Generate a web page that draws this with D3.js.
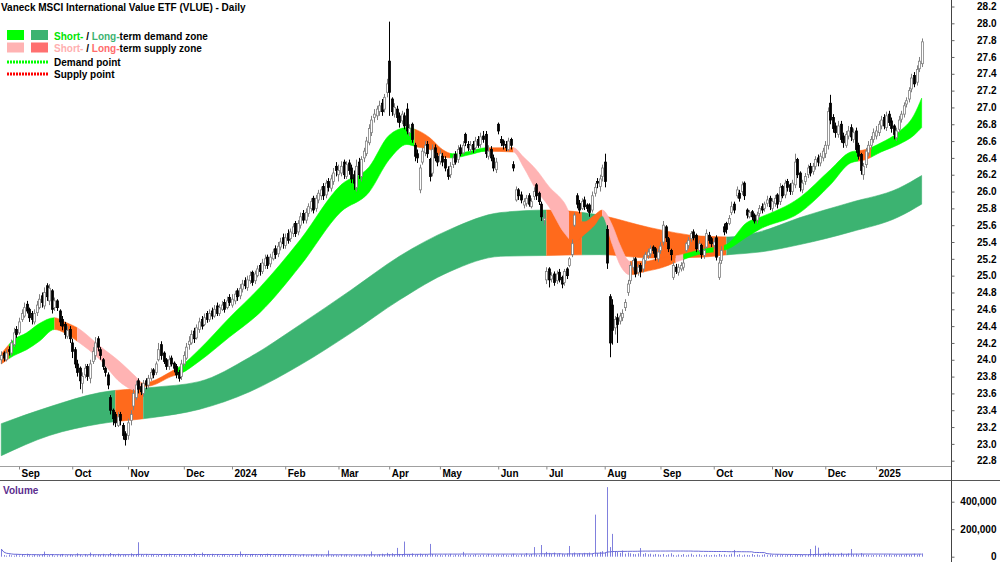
<!DOCTYPE html>
<html>
<head>
<meta charset="utf-8">
<script src="https://cdn.jsdelivr.net/npm/d3@7"></script>
<style>
body { margin: 0; background: #fff; }
text { font-family: "Liberation Sans", Arial, sans-serif; }
</style>
</head>
<body>
<div id="chart"></div>
<script>
// VLUE daily candles, Aug 2023 - Jan 2025 (ASX trading days)

// opens, one row per month
var opens = [
  24.00, 24.08, 24.00, 24.12, 24.08, 24.18, 24.36,
  24.32, 24.48, 24.52, 24.66, 24.60, 24.55, 24.45, 24.56, 24.62, 24.76, 24.64, 24.88, 24.70, 24.82, 24.62, 24.70, 24.58, 24.48, 24.42, 24.28, 24.36,
  24.20, 24.12, 23.95, 23.90, 23.72, 23.82, 23.92, 23.78, 23.98, 24.05, 24.25, 24.12, 24.00, 23.90, 23.82, 23.55, 23.40, 23.35, 23.22, 23.35, 23.22, 23.12,
  23.10, 23.28, 23.45, 23.55, 23.75, 23.68, 23.60, 23.75, 23.70, 23.78, 23.88, 23.85, 24.00, 24.18, 24.08, 24.00, 23.92, 24.02, 23.96, 23.92, 23.85, 23.80,
  23.95, 24.02, 24.18, 24.20, 24.34, 24.26, 24.36, 24.48, 24.42, 24.55, 24.48, 24.58, 24.52, 24.64, 24.55, 24.60, 24.68, 24.62, 24.74,
  24.65, 24.70, 24.82, 24.76, 24.84, 24.94, 24.86, 24.94, 25.04, 24.94, 25.00, 25.12, 25.05, 25.12, 25.22, 25.14, 25.20, 25.32, 25.26, 25.34, 25.45,
  25.36, 25.50, 25.44, 25.50, 25.62, 25.52, 25.60, 25.74, 25.66, 25.74, 25.80, 25.92, 25.80, 25.90, 25.95, 26.06, 25.96, 26.12, 26.04, 26.12, 26.30,
  26.20, 26.22, 26.35, 26.18, 26.34, 26.28, 26.20, 26.05, 26.35, 26.18, 26.40, 26.45, 26.58, 26.70, 26.88, 26.90, 26.95, 27.05, 26.98, 27.18,
  27.55, 27.10, 26.92, 26.98, 26.90, 26.84, 26.90, 26.98, 26.70, 26.80, 26.55, 26.45, 26.02, 26.35, 26.46, 26.56, 26.38, 26.22, 26.52, 26.42,
  26.36, 26.42, 26.38, 26.26, 26.20, 26.32, 26.44, 26.38, 26.52, 26.46, 26.68, 26.56, 26.50, 26.56, 26.52, 26.62, 26.56, 26.66, 26.68, 26.42, 26.50, 26.40, 26.26,
  26.80, 26.62, 26.60, 26.56, 26.50, 26.62, 26.32, 25.90, 26.02, 25.96, 25.84, 25.86, 25.95, 25.82, 25.94, 26.08, 25.98, 25.85, 25.66,
  24.95, 25.08, 24.96, 25.02, 24.94, 25.04, 24.98, 24.92, 25.08, 25.12, 25.25, 25.60, 25.95, 25.86, 25.80, 25.90, 25.84, 25.84, 25.78, 25.98, 26.12, 26.06, 26.18,
  26.35, 25.55, 24.75, 24.65, 24.38, 24.50, 24.46, 24.50, 24.62, 24.80, 24.94, 25.10, 25.20, 25.04, 25.12, 25.08, 25.18, 25.24, 25.26, 25.34, 25.32, 25.20,
  25.30, 25.40, 25.58, 25.44, 25.30, 24.98, 25.10, 25.04, 25.08, 25.10, 25.30, 25.36, 25.44, 25.52, 25.48, 25.30, 25.36, 25.24, 25.34, 25.48, 25.44,
  25.36, 25.45, 24.98, 25.18, 25.58, 25.62, 25.62, 25.75, 25.85, 25.95, 25.98, 26.00, 26.10, 25.78, 25.70, 25.76, 25.72, 25.66, 25.74, 25.82, 25.80, 25.86, 25.92,
  25.80, 25.86, 25.96, 25.88, 26.06, 25.96, 26.12, 26.08, 26.00, 26.08, 26.38, 26.22, 26.02, 26.12, 26.20, 26.30, 26.24, 26.30, 26.40, 26.34, 26.40,
  26.45, 26.55, 27.05, 26.88, 26.78, 26.68, 26.80, 26.66, 26.55, 26.66, 26.76, 26.62, 26.72, 26.55, 26.44, 26.20, 26.32, 26.46, 26.55, 26.62,
  26.66, 26.70, 26.78, 26.88, 26.76, 26.92, 26.84, 26.78, 26.64, 26.74, 26.86, 26.92, 27.04, 27.10, 27.22, 27.38, 27.30, 27.46, 27.52
];
var highs = [
  24.10, 24.10, 24.12, 24.16, 24.24, 24.38, 24.40,
  24.50, 24.60, 24.68, 24.70, 24.62, 24.58, 24.60, 24.70, 24.78, 24.80, 24.86, 24.91, 24.90, 24.84, 24.74, 24.72, 24.60, 24.52, 24.45, 24.40, 24.40,
  24.25, 24.15, 24.00, 23.92, 23.85, 23.95, 23.95, 24.00, 24.15, 24.27, 24.28, 24.15, 24.02, 23.92, 23.85, 23.58, 23.42, 23.38, 23.38, 23.38, 23.25, 23.15,
  23.30, 23.40, 23.65, 23.75, 23.78, 23.72, 23.76, 23.78, 23.82, 23.90, 23.90, 23.98, 24.20, 24.22, 24.10, 24.02, 24.05, 24.05, 23.98, 23.95, 23.88, 24.00,
  24.10, 24.20, 24.28, 24.35, 24.38, 24.42, 24.50, 24.52, 24.55, 24.58, 24.60, 24.62, 24.65, 24.68, 24.66, 24.70, 24.72, 24.75, 24.78,
  24.78, 24.82, 24.85, 24.90, 24.95, 24.98, 25.00, 25.05, 25.06, 25.06, 25.12, 25.15, 25.20, 25.25, 25.25, 25.26, 25.32, 25.36, 25.40, 25.45, 25.50,
  25.50, 25.55, 25.56, 25.62, 25.65, 25.66, 25.75, 25.78, 25.80, 25.86, 25.92, 25.95, 25.96, 26.02, 26.06, 26.10, 26.14, 26.16, 26.20, 26.28, 26.35,
  26.32, 26.36, 26.38, 26.36, 26.38, 26.32, 26.25, 26.38, 26.40, 26.42, 26.52, 26.65, 26.80, 26.90, 26.98, 27.02, 27.08, 27.10, 27.16, 27.34,
  28.02, 27.12, 27.05, 27.02, 26.94, 26.96, 26.94, 27.05, 26.80, 26.82, 26.58, 26.50, 26.32, 26.52, 26.60, 26.60, 26.40, 26.56, 26.56, 26.46,
  26.50, 26.46, 26.42, 26.30, 26.35, 26.44, 26.48, 26.55, 26.56, 26.60, 26.70, 26.60, 26.60, 26.60, 26.65, 26.66, 26.70, 26.72, 26.72, 26.55, 26.54, 26.44, 26.40,
  26.82, 26.66, 26.62, 26.60, 26.64, 26.64, 26.36, 26.06, 26.04, 26.00, 25.92, 25.96, 25.98, 25.92, 26.05, 26.10, 26.00, 25.88, 25.74,
  25.10, 25.10, 25.04, 25.05, 25.06, 25.08, 25.00, 25.08, 25.10, 25.22, 25.43, 25.75, 25.98, 25.90, 25.92, 25.94, 25.86, 25.86, 26.00, 26.10, 26.16, 26.20, 26.32,
  26.45, 25.60, 24.78, 24.72, 24.52, 24.55, 24.56, 24.60, 24.72, 24.95, 25.16, 25.22, 25.22, 25.14, 25.15, 25.24, 25.28, 25.32, 25.36, 25.36, 25.34, 25.32,
  25.40, 25.65, 25.60, 25.46, 25.32, 25.16, 25.14, 25.14, 25.16, 25.20, 25.40, 25.46, 25.53, 25.55, 25.50, 25.42, 25.38, 25.34, 25.55, 25.52, 25.46,
  25.45, 25.48, 25.22, 25.35, 25.62, 25.64, 25.72, 25.88, 25.88, 26.06, 26.02, 26.12, 26.12, 25.80, 25.78, 25.78, 25.74, 25.76, 25.84, 25.86, 25.88, 25.95, 25.95,
  25.92, 25.96, 25.98, 26.10, 26.08, 26.14, 26.15, 26.10, 26.14, 26.45, 26.40, 26.24, 26.14, 26.22, 26.32, 26.34, 26.34, 26.42, 26.44, 26.46, 26.52,
  26.60, 27.00, 27.15, 26.92, 26.82, 26.84, 26.84, 26.70, 26.72, 26.78, 26.80, 26.75, 26.76, 26.58, 26.46, 26.34, 26.52, 26.60, 26.66, 26.75,
  26.78, 26.84, 26.90, 26.92, 26.95, 26.96, 26.88, 26.80, 26.76, 26.90, 26.96, 27.06, 27.12, 27.24, 27.40, 27.42, 27.50, 27.60, 27.82
];
var lows = [
  23.95, 23.98, 23.98, 24.05, 24.05, 24.15, 24.26,
  24.30, 24.45, 24.50, 24.55, 24.45, 24.42, 24.42, 24.52, 24.60, 24.62, 24.60, 24.70, 24.65, 24.55, 24.58, 24.58, 24.40, 24.35, 24.25, 24.25, 24.20,
  24.02, 23.90, 23.80, 23.65, 23.60, 23.78, 23.75, 23.72, 23.95, 24.00, 24.10, 24.00, 23.88, 23.80, 23.65, 23.35, 23.22, 23.20, 23.20, 23.22, 23.05, 22.98,
  23.05, 23.22, 23.40, 23.52, 23.60, 23.58, 23.56, 23.65, 23.66, 23.75, 23.78, 23.82, 23.98, 24.00, 23.95, 23.88, 23.88, 23.92, 23.85, 23.78, 23.74, 23.76,
  23.92, 24.00, 24.12, 24.18, 24.20, 24.24, 24.32, 24.36, 24.40, 24.44, 24.45, 24.48, 24.50, 24.52, 24.52, 24.58, 24.56, 24.60, 24.64,
  24.62, 24.66, 24.70, 24.72, 24.80, 24.84, 24.82, 24.90, 24.88, 24.90, 24.98, 25.00, 25.02, 25.08, 25.08, 25.10, 25.18, 25.20, 25.22, 25.30, 25.32,
  25.32, 25.38, 25.40, 25.46, 25.46, 25.48, 25.56, 25.62, 25.62, 25.70, 25.76, 25.74, 25.76, 25.86, 25.90, 25.90, 25.92, 26.00, 26.00, 26.08, 26.18,
  26.12, 26.18, 26.15, 26.15, 26.20, 26.10, 26.02, 26.00, 26.15, 26.12, 26.35, 26.42, 26.55, 26.66, 26.82, 26.85, 26.90, 26.90, 26.94, 27.12,
  26.90, 26.90, 26.88, 26.82, 26.76, 26.80, 26.74, 26.68, 26.66, 26.58, 26.36, 26.34, 25.98, 26.32, 26.42, 26.40, 26.12, 26.18, 26.36, 26.30,
  26.32, 26.30, 26.24, 26.14, 26.16, 26.28, 26.32, 26.34, 26.42, 26.44, 26.54, 26.48, 26.46, 26.46, 26.48, 26.52, 26.52, 26.58, 26.40, 26.38, 26.36, 26.24, 26.22,
  26.68, 26.54, 26.50, 26.48, 26.48, 26.50, 26.24, 25.88, 25.90, 25.86, 25.80, 25.82, 25.82, 25.80, 25.90, 25.90, 25.84, 25.65, 25.60,
  24.90, 24.86, 24.92, 24.88, 24.90, 24.92, 24.85, 24.88, 24.96, 25.10, 25.22, 25.58, 25.80, 25.74, 25.78, 25.78, 25.76, 25.70, 25.75, 25.94, 26.04, 26.00, 26.12,
  26.05, 25.08, 24.03, 24.18, 24.30, 24.20, 24.42, 24.46, 24.58, 24.76, 24.90, 25.06, 24.98, 25.00, 24.98, 25.04, 25.14, 25.20, 25.22, 25.26, 25.18, 25.16,
  25.26, 25.36, 25.40, 25.28, 25.18, 24.95, 25.02, 25.00, 25.05, 25.06, 25.28, 25.32, 25.40, 25.42, 25.28, 25.28, 25.20, 25.20, 25.32, 25.38, 25.34,
  25.32, 25.18, 24.95, 25.14, 25.48, 25.50, 25.60, 25.72, 25.74, 25.92, 25.88, 25.96, 25.90, 25.68, 25.68, 25.66, 25.62, 25.62, 25.70, 25.74, 25.76, 25.82, 25.78,
  25.76, 25.82, 25.80, 25.84, 25.92, 25.92, 26.00, 25.96, 25.96, 26.04, 26.16, 26.00, 25.98, 26.08, 26.16, 26.18, 26.20, 26.26, 26.30, 26.30, 26.36,
  26.40, 26.50, 26.80, 26.70, 26.64, 26.64, 26.58, 26.52, 26.52, 26.62, 26.60, 26.58, 26.46, 26.38, 26.20, 26.14, 26.28, 26.42, 26.50, 26.58,
  26.62, 26.66, 26.74, 26.74, 26.72, 26.78, 26.70, 26.62, 26.60, 26.70, 26.82, 26.88, 27.00, 27.06, 27.18, 27.24, 27.26, 27.42, 27.48
];
var closes = [
  24.05, 24.02, 24.08, 24.10, 24.20, 24.32, 24.30,
  24.45, 24.55, 24.62, 24.58, 24.50, 24.48, 24.55, 24.65, 24.72, 24.68, 24.80, 24.75, 24.85, 24.60, 24.70, 24.62, 24.45, 24.40, 24.30, 24.35, 24.25,
  24.10, 23.95, 23.85, 23.75, 23.80, 23.90, 23.80, 23.95, 24.10, 24.20, 24.15, 24.05, 23.92, 23.85, 23.70, 23.40, 23.30, 23.25, 23.32, 23.28, 23.10, 23.05,
  23.25, 23.35, 23.60, 23.70, 23.65, 23.62, 23.72, 23.70, 23.78, 23.85, 23.82, 23.95, 24.12, 24.05, 23.98, 23.92, 24.00, 23.95, 23.90, 23.82, 23.78, 23.95,
  24.05, 24.15, 24.22, 24.30, 24.25, 24.38, 24.45, 24.40, 24.50, 24.48, 24.55, 24.52, 24.60, 24.55, 24.62, 24.65, 24.60, 24.70, 24.68,
  24.72, 24.78, 24.75, 24.85, 24.90, 24.88, 24.95, 25.00, 24.92, 25.02, 25.08, 25.05, 25.15, 25.20, 25.12, 25.22, 25.28, 25.25, 25.35, 25.40, 25.38,
  25.45, 25.42, 25.52, 25.58, 25.50, 25.62, 25.70, 25.66, 25.75, 25.82, 25.88, 25.78, 25.92, 25.98, 26.02, 25.95, 26.10, 26.05, 26.15, 26.22, 26.25,
  26.25, 26.30, 26.20, 26.32, 26.25, 26.15, 26.10, 26.30, 26.20, 26.38, 26.48, 26.60, 26.75, 26.85, 26.92, 26.98, 27.02, 26.95, 27.12, 27.28,
  27.18, 26.95, 27.00, 26.88, 26.82, 26.92, 26.78, 26.72, 26.75, 26.62, 26.42, 26.40, 26.28, 26.48, 26.55, 26.45, 26.18, 26.50, 26.40, 26.35,
  26.45, 26.35, 26.28, 26.18, 26.30, 26.40, 26.35, 26.50, 26.45, 26.55, 26.58, 26.52, 26.55, 26.50, 26.60, 26.55, 26.65, 26.62, 26.45, 26.48, 26.40, 26.28, 26.35,
  26.72, 26.58, 26.55, 26.52, 26.60, 26.55, 26.28, 26.02, 25.95, 25.90, 25.88, 25.92, 25.85, 25.88, 26.00, 25.95, 25.88, 25.70, 25.68,
  25.05, 24.95, 25.00, 24.92, 25.02, 24.95, 24.90, 25.05, 25.00, 25.20, 25.38, 25.72, 25.85, 25.78, 25.88, 25.82, 25.80, 25.75, 25.95, 26.05, 26.10, 26.15, 26.28,
  26.12, 25.15, 24.20, 24.35, 24.48, 24.42, 24.52, 24.55, 24.68, 24.90, 25.12, 25.18, 25.02, 25.10, 25.05, 25.20, 25.25, 25.28, 25.32, 25.30, 25.22, 25.28,
  25.35, 25.60, 25.45, 25.32, 25.25, 25.12, 25.05, 25.10, 25.12, 25.15, 25.38, 25.42, 25.50, 25.45, 25.32, 25.38, 25.25, 25.30, 25.50, 25.42, 25.38,
  25.40, 25.22, 25.15, 25.30, 25.52, 25.55, 25.68, 25.82, 25.78, 26.02, 25.92, 26.08, 25.95, 25.72, 25.75, 25.70, 25.65, 25.72, 25.80, 25.78, 25.85, 25.90, 25.82,
  25.88, 25.92, 25.85, 26.05, 25.95, 26.10, 26.05, 26.00, 26.10, 26.35, 26.20, 26.05, 26.10, 26.18, 26.28, 26.22, 26.30, 26.38, 26.35, 26.42, 26.48,
  26.55, 26.95, 26.85, 26.75, 26.70, 26.78, 26.62, 26.58, 26.68, 26.72, 26.65, 26.70, 26.50, 26.42, 26.25, 26.30, 26.48, 26.55, 26.62, 26.70,
  26.72, 26.80, 26.85, 26.78, 26.90, 26.82, 26.75, 26.68, 26.72, 26.85, 26.92, 27.02, 27.08, 27.20, 27.35, 27.28, 27.45, 27.55, 27.78
];
// volume in thousands of units
var volumes = [
  56, 12, 8, 15, 10, 6, 18,
  9, 14, 7, 22, 11, 8, 16, 10, 12, 14, 37, 9, 12, 18, 7, 10, 13, 20, 8, 11, 15,
  12, 9, 25, 14, 8, 19, 11, 30, 13, 9, 16, 12, 21, 10, 14, 27, 18, 12, 22, 15, 11, 17,
  10, 24, 13, 18, 105, 14, 11, 20, 9, 12, 16, 8, 13, 19, 10, 14, 22, 9, 12, 7, 15, 11,
  13, 9, 18, 11, 25, 14, 8, 30, 12, 16, 10, 21, 9, 14, 7, 12, 18, 6, 11,
  10, 15, 9, 38, 12, 17, 8, 14, 20, 11, 9, 16, 13, 10, 22, 12, 8, 15, 11, 19, 14,
  12, 9, 16, 10, 14, 8, 13, 18, 11, 9, 15, 12, 20, 10, 14, 9, 12, 45, 10, 13, 11,
  9, 14, 11, 16, 8, 12, 10, 15, 13, 9, 18, 11, 14, 38, 12, 10, 16, 22, 13, 28,
  18, 25, 15, 64, 20, 16, 110, 14, 19, 24, 12, 17, 22, 15, 18, 13, 93, 20, 16, 12,
  14, 10, 17, 12, 20, 9, 15, 13, 11, 35, 16, 10, 14, 12, 18, 9, 13, 15, 11, 21, 10, 14, 12,
  16, 11, 18, 13, 9, 15, 22, 12, 10, 17, 14, 26, 13, 20, 70, 15, 12, 85, 19,
  35, 28, 22, 30, 18, 25, 20, 16, 24, 78, 22, 30, 18, 26, 20, 28, 24, 30, 22, 306, 26, 35, 40,
  30, 506, 70, 166, 40, 35, 28, 45, 22, 30, 25, 20, 18, 24, 63, 20, 26, 18, 22, 15, 20, 17,
  14, 20, 11, 17, 25, 13, 9, 16, 12, 19, 10, 15, 22, 11, 14, 18, 9, 13, 16, 10, 12,
  15, 11, 20, 13, 17, 10, 14, 22, 49, 12, 18, 9, 15, 13, 11, 20, 12, 16, 10, 14, 18, 11, 15,
  12, 9, 16, 11, 14, 10, 13, 18, 9, 12, 15, 11, 14, 10, 16, 56, 12, 80, 66, 18, 22,
  25, 30, 18, 22, 15, 20, 28, 16, 19, 24, 56, 17, 21, 14, 26, 18, 12, 15, 10, 13,
  11, 14, 9, 16, 12, 18, 10, 13, 15, 11, 17, 12, 20, 14, 16, 22, 13, 18, 24
];

// zone bands: bar index, upper edge, lower edge
var shortIdx = [0, 5, 10, 15, 21, 25, 30, 39, 47, 53, 56, 59, 67, 71, 78, 90, 102, 118, 134, 145, 153, 160, 164, 169, 174, 178, 185, 191, 202, 206, 211, 216, 222, 226, 230, 234, 237, 241, 244, 248, 254, 260, 267, 276, 286, 294, 299, 315, 327, 335, 341, 347, 354, 360, 363];
var shortUp = [24.07, 24.24, 24.32, 24.43, 24.50, 24.45, 24.38, 24.16, 23.97, 23.80, 23.72, 23.74, 23.86, 23.93, 24.12, 24.50, 24.86, 25.43, 26.08, 26.29, 26.67, 26.76, 26.73, 26.64, 26.50, 26.45, 26.48, 26.52, 26.52, 26.41, 26.26, 26.06, 25.87, 25.66, 25.64, 25.72, 25.78, 25.60, 25.37, 25.17, 25.17, 25.21, 25.24, 25.31, 25.37, 25.63, 25.69, 25.93, 26.26, 26.47, 26.50, 26.58, 26.71, 26.91, 27.11];
var shortLo = [23.95, 24.05, 24.12, 24.22, 24.36, 24.32, 24.22, 24.00, 23.73, 23.64, 23.68, 23.69, 23.80, 23.84, 23.98, 24.27, 24.56, 25.12, 25.76, 25.99, 26.38, 26.56, 26.53, 26.50, 26.41, 26.40, 26.44, 26.48, 26.47, 26.29, 26.02, 25.82, 25.51, 25.40, 25.49, 25.60, 25.71, 25.37, 25.13, 25.01, 25.05, 25.09, 25.17, 25.26, 25.31, 25.46, 25.55, 25.75, 26.08, 26.34, 26.38, 26.47, 26.56, 26.67, 26.76];
var longIdx = [0, 19, 39, 59, 78, 98, 118, 138, 157, 177, 197, 216, 236, 256, 276, 287, 299, 315, 335, 354, 363];
var longUp = [23.24, 23.44, 23.61, 23.67, 23.74, 24.03, 24.42, 24.83, 25.23, 25.55, 25.75, 25.78, 25.72, 25.57, 25.47, 25.46, 25.52, 25.69, 25.87, 26.04, 26.19];
var longLo = [22.86, 23.10, 23.24, 23.31, 23.41, 23.62, 23.94, 24.32, 24.71, 25.05, 25.23, 25.24, 25.25, 25.21, 25.22, 25.25, 25.28, 25.37, 25.52, 25.70, 25.85];

// colour state of each band between bar indexes
var shortZones = [[0, 3, "mix"], [3, 21, "demand"], [21, 30, "mix"], [30, 55, "supply"], [55, 69, "mix"], [69, 163, "demand"], [163, 177, "mix"], [177, 191, "demand"], [191, 202, "mix"], [202, 224, "supply"], [224, 237, "mix"], [237, 248, "supply"], [248, 266, "mix"], [266, 269, "supply"], [269, 281, "demand"], [281, 285, "mix"], [285, 338, "demand"], [338, 343, "mix"], [343, 363, "demand"]];
var longZones = [[0, 45, "demand"], [45, 56, "mix"], [56, 215, "demand"], [215, 229, "mix"], [229, 239, "demand"], [239, 286, "mix"], [286, 363, "demand"]];

var holidays = ["2023-12-25", "2023-12-26", "2024-01-01", "2024-01-26", "2024-03-29", "2024-04-01", "2024-04-25", "2024-06-10", "2024-12-25", "2024-12-26", "2025-01-01", "2025-01-27"];
var priceTicks = d3.range(0, 28).map(function(k) { return +(22.8 + k * 0.2).toFixed(1); });
var volumeTicks = [0, 200000, 400000];

var w = 1000, h = 562;
var shortColor = { demand: "#00ff00", supply: "#ffb3b3", mix: "#ff6a1c" };
var longColor = { demand: "#3cb371", supply: "#ff7070", mix: "#ff6a1c" };

var fmtDay = d3.utcFormat("%Y-%m-%d");
var days = d3.utcDay.range(new Date(Date.UTC(2023, 7, 23)), new Date(Date.UTC(2025, 0, 30)))
  .filter(function(d) { return d.getUTCDay() % 6 != 0 && holidays.indexOf(fmtDay(d)) < 0; });

var bars = days.map(function(d, i) {
  return { i: i, date: d, o: opens[i], h: highs[i], l: lows[i], c: closes[i], v: volumes[i] * 1000 };
});

var monthIdx = [];
days.forEach(function(d, i) {
  if (i > 0 && d.getUTCMonth() != days[i - 1].getUTCMonth()) monthIdx.push(i);
});

var x = d3.scaleLinear().domain([7, 345]).range([19, 876]);
var y = d3.scaleLinear().domain([22.8, 28.2]).range([460.7, 6.5]);
var yv = d3.scaleLinear().domain([0, 400000]).range([556.7, 501.7]);

var svg = d3.select("#chart").append("svg")
  .attr("width", w)
  .attr("height", h);

var defs = svg.append("defs");
defs.append("clipPath").attr("id", "price-clip")
  .append("rect").attr("x", 0).attr("y", 0).attr("width", 951).attr("height", 466);

// bands
var band = d3.area()
  .curve(d3.curveMonotoneX)
  .x(function(d) { return x(d.i); })
  .y0(function(d) { return y(d.lo); })
  .y1(function(d) { return y(d.hi); });

function drawBand(g, idx, up, lo, zones, colors, name) {
  var pts = idx.map(function(i, k) { return { i: i, hi: up[k], lo: lo[k] }; });
  zones.forEach(function(z, k) {
    var id = name + "-zone-" + k;
    var x0 = k == 0 ? x(z[0]) - 5 : x(z[0]);
    var x1 = k == zones.length - 1 ? x(z[1]) + 5 : x(z[1]);
    defs.append("clipPath").attr("id", id)
      .append("rect").attr("x", x0).attr("y", 0).attr("width", x1 - x0).attr("height", 466);
    g.append("path")
      .datum(pts)
      .attr("clip-path", "url(#" + id + ")")
      .attr("d", band)
      .attr("fill", colors[z[2]])
      .attr("stroke", colors[z[2]])
      .attr("stroke-width", 0.6);
  });
}

var plot = svg.append("g").attr("clip-path", "url(#price-clip)");
drawBand(plot.append("g"), longIdx, longUp, longLo, longZones, longColor, "long");
drawBand(plot.append("g"), shortIdx, shortUp, shortLo, shortZones, shortColor, "short");

// candles
var cg = plot.append("g").attr("class", "candles");
cg.selectAll(".wick")
  .data(bars)
.enter().append("line")
  .attr("class", "wick")
  .attr("x1", function(d) { return Math.round(x(d.i)) + 0.5; })
  .attr("x2", function(d) { return Math.round(x(d.i)) + 0.5; })
  .attr("y1", function(d) { return y(Math.max(d.h, d.o, d.c)); })
  .attr("y2", function(d) { return y(Math.min(d.l, d.o, d.c)); })
  .attr("stroke", function(d) { return d.c >= d.o ? "#808080" : "#000"; })
  .attr("stroke-width", 1);

cg.selectAll(".body")
  .data(bars)
.enter().append("rect")
  .attr("class", "body")
  .attr("x", function(d) { return Math.round(x(d.i)) - 0.5; })
  .attr("y", function(d) { return y(Math.max(d.o, d.c)); })
  .attr("width", 2)
  .attr("height", function(d) { return Math.max(1, Math.abs(y(d.o) - y(d.c))); })
  .attr("fill", function(d) { return d.c >= d.o ? "#fff" : "#000"; })
  .attr("stroke", function(d) { return d.c >= d.o ? "#808080" : "#000"; })
  .attr("stroke-width", 0.8);

// frame lines
svg.append("line").attr("x1", 0).attr("x2", 952).attr("y1", 466.5).attr("y2", 466.5)
  .attr("stroke", "#a0a0a0");
svg.append("line").attr("x1", 0).attr("x2", w).attr("y1", 480.5).attr("y2", 480.5)
  .attr("stroke", "#555");
svg.append("line").attr("x1", 951.5).attr("x2", 951.5).attr("y1", 0).attr("y2", h)
  .attr("stroke", "#444");

// price axis
var ya = svg.append("g")
  .attr("transform", "translate(951.5,0)")
  .call(d3.axisRight(y).tickValues(priceTicks).tickSize(3).tickFormat(d3.format(".1f")));
ya.select(".domain").remove();
ya.selectAll("line").attr("stroke", "#666");
ya.selectAll("text")
  .attr("x", 45)
  .attr("text-anchor", "end")
  .attr("fill", "#000")
  .style("font-size", "10px")
  .style("font-weight", "bold");

// month axis
var xa = svg.append("g")
  .attr("transform", "translate(0,466.5)")
  .call(d3.axisBottom(x).tickValues(monthIdx).tickSize(3).tickFormat(function(i) {
    var d = days[i];
    return d.getUTCMonth() == 0 ? d3.utcFormat("%Y")(d) : d3.utcFormat("%b")(d);
  }));
xa.select(".domain").remove();
xa.selectAll("line").attr("stroke", "#888");
xa.selectAll("text")
  .attr("x", 2)
  .attr("y", 3)
  .attr("text-anchor", "start")
  .attr("fill", "#000")
  .style("font-size", "10px")
  .style("font-weight", "bold");

// volume
var vg = svg.append("g");
vg.selectAll(".vol")
  .data(bars)
.enter().append("line")
  .attr("class", "vol")
  .attr("x1", function(d) { return Math.round(x(d.i)) + 0.5; })
  .attr("x2", function(d) { return Math.round(x(d.i)) + 0.5; })
  .attr("y1", yv(0))
  .attr("y2", function(d) { return Math.min(yv(0) - 1, yv(d.v)); })
  .attr("stroke", "#8080dd")
  .attr("stroke-width", 1);

var maLen = 63;
var volMa = bars.map(function(d, i) {
  var s = bars.slice(Math.max(0, i - maLen + 1), i + 1);
  return { i: i, v: d3.mean(s, function(b) { return b.v; }) };
});
vg.append("path")
  .datum(volMa)
  .attr("fill", "none")
  .attr("stroke", "#6a6ad8")
  .attr("stroke-width", 1)
  .attr("d", d3.line().x(function(d) { return x(d.i); }).y(function(d) { return yv(d.v); }));

var va = svg.append("g")
  .attr("transform", "translate(951.5,0)")
  .call(d3.axisRight(yv).tickValues(volumeTicks).tickSize(3).tickFormat(d3.format(",")));
va.select(".domain").remove();
va.selectAll("line").attr("stroke", "#666");
va.selectAll("text")
  .attr("x", 45)
  .attr("text-anchor", "end")
  .attr("fill", "#000")
  .style("font-size", "10px")
  .style("font-weight", "bold");

svg.append("text")
  .attr("x", 3).attr("y", 494)
  .attr("fill", "#5b2d8e")
  .style("font-size", "10px")
  .style("font-weight", "bold")
  .text("Volume");

// title and legend
svg.append("text")
  .attr("x", 1).attr("y", 10.5)
  .style("font-size", "10px")
  .style("font-weight", "bold")
  .text("Vaneck MSCI International Value ETF (VLUE) - Daily");

var lg = svg.append("g");
[["#00ff00", "#3cb371", 30], ["#ffb3b3", "#ff7070", 42.5]].forEach(function(r) {
  lg.append("rect").attr("x", 7).attr("y", r[2]).attr("width", 17).attr("height", 10).attr("fill", r[0]);
  lg.append("rect").attr("x", 31).attr("y", r[2]).attr("width", 17).attr("height", 10).attr("fill", r[1]);
});

function legendText(yPos, parts) {
  var t = lg.append("text").attr("x", 54).attr("y", yPos)
    .style("font-size", "10px").style("font-weight", "bold");
  parts.forEach(function(p) {
    t.append("tspan").attr("fill", p[1]).text(p[0]);
  });
}
legendText(39.5, [["Short-", "#00e600"], [" / ", "#000"], ["Long-", "#3cb371"], ["term demand zone", "#000"]]);
legendText(52, [["Short-", "#ffb0b0"], [" / ", "#000"], ["Long-", "#ff6b6b"], ["term supply zone", "#000"]]);

lg.append("line").attr("x1", 7).attr("x2", 48).attr("y1", 62).attr("y2", 62)
  .attr("stroke", "#00ff00").attr("stroke-width", 3).attr("stroke-dasharray", "2,1");
lg.append("line").attr("x1", 7).attr("x2", 48).attr("y1", 74).attr("y2", 74)
  .attr("stroke", "#ff0000").attr("stroke-width", 3).attr("stroke-dasharray", "2,1");
legendText(66, [["Demand point", "#000"]]);
legendText(78, [["Supply point", "#000"]]);
</script>
</body>
</html>
